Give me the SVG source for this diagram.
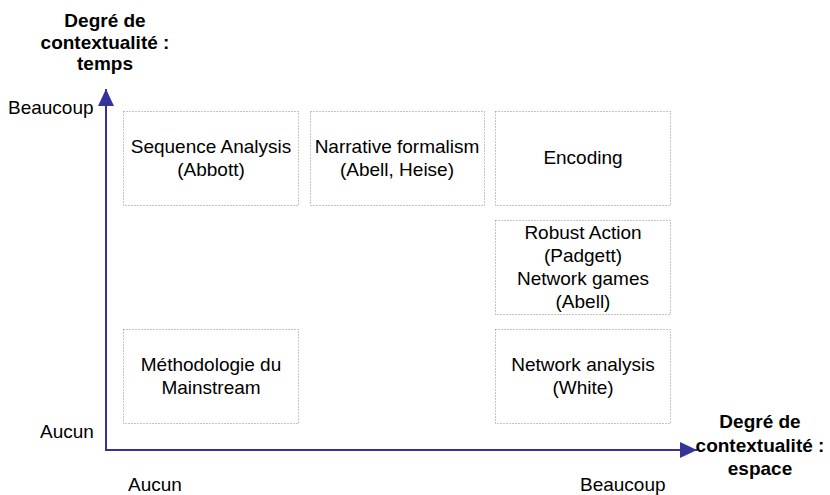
<svg xmlns="http://www.w3.org/2000/svg" width="830" height="495" viewBox="0 0 830 495">
<style>
.box{fill:none;stroke:#8a8a8a;stroke-width:1;stroke-dasharray:1 2}
.t{font-family:"Liberation Sans",Arial,sans-serif;font-size:19px;fill:#000;text-anchor:middle}
.l{font-family:"Liberation Sans",Arial,sans-serif;font-size:19px;fill:#000}
.b{font-family:"Liberation Sans",Arial,sans-serif;font-size:19px;font-weight:bold;fill:#000;text-anchor:middle}
.ax{stroke:#333399;stroke-width:2;fill:none}
</style>
<defs>
<marker id="ah" markerWidth="18" markerHeight="18" refX="17" refY="9" orient="auto" markerUnits="userSpaceOnUse">
<path d="M0,1 L17,9 L0,17 Z" fill="#333399"/>
</marker>
</defs>
<rect width="830" height="495" fill="#fff"/>
<g id="connectors">
<line class="ax" x1="106" y1="450" x2="106" y2="89" marker-end="url(#ah)"/>
<line class="ax" x1="105" y1="450" x2="697" y2="450" marker-end="url(#ah)"/>
</g>
<g id="axis-y-label">
<text class="b" x="105" y="27">Degré de</text>
<text class="b" x="105" y="49">contextualité :</text>
<text class="b" x="105" y="70">temps</text>
</g>
<g id="axis-x-label">
<text class="b" x="760" y="428">Degré de</text>
<text class="b" x="760" y="452">contextualité :</text>
<text class="b" x="760" y="475">espace</text>
</g>
<g id="ticks">
<text class="l" x="8" y="114">Beaucoup</text>
<text class="l" x="40" y="438">Aucun</text>
<text class="l" x="128" y="491">Aucun</text>
<text class="l" x="580" y="491">Beaucoup</text>
</g>
<g id="sequence">
<rect class="box" x="123.5" y="111.5" width="175" height="94"/>
<text class="t" x="211" y="153">Sequence Analysis</text>
<text class="t" x="211" y="176">(Abbott)</text>
</g>
<g id="narrative">
<rect class="box" x="310.5" y="111.5" width="174" height="94"/>
<text class="t" x="397" y="153">Narrative formalism</text>
<text class="t" x="397" y="176">(Abell, Heise)</text>
</g>
<g id="encoding">
<rect class="box" x="495.5" y="111.5" width="175" height="94"/>
<text class="t" x="583" y="164">Encoding</text>
</g>
<g id="robust">
<rect class="box" x="495.5" y="220.5" width="175" height="94"/>
<text class="t" x="583" y="239">Robust Action</text>
<text class="t" x="583" y="262">(Padgett)</text>
<text class="t" x="583" y="285">Network games</text>
<text class="t" x="583" y="308">(Abell)</text>
</g>
<g id="mainstream">
<rect class="box" x="123.5" y="329.5" width="175" height="94"/>
<text class="t" x="211" y="371">Méthodologie du</text>
<text class="t" x="211" y="394">Mainstream</text>
</g>
<g id="network">
<rect class="box" x="495.5" y="329.5" width="175" height="94"/>
<text class="t" x="583" y="371">Network analysis</text>
<text class="t" x="583" y="394">(White)</text>
</g>
</svg>
